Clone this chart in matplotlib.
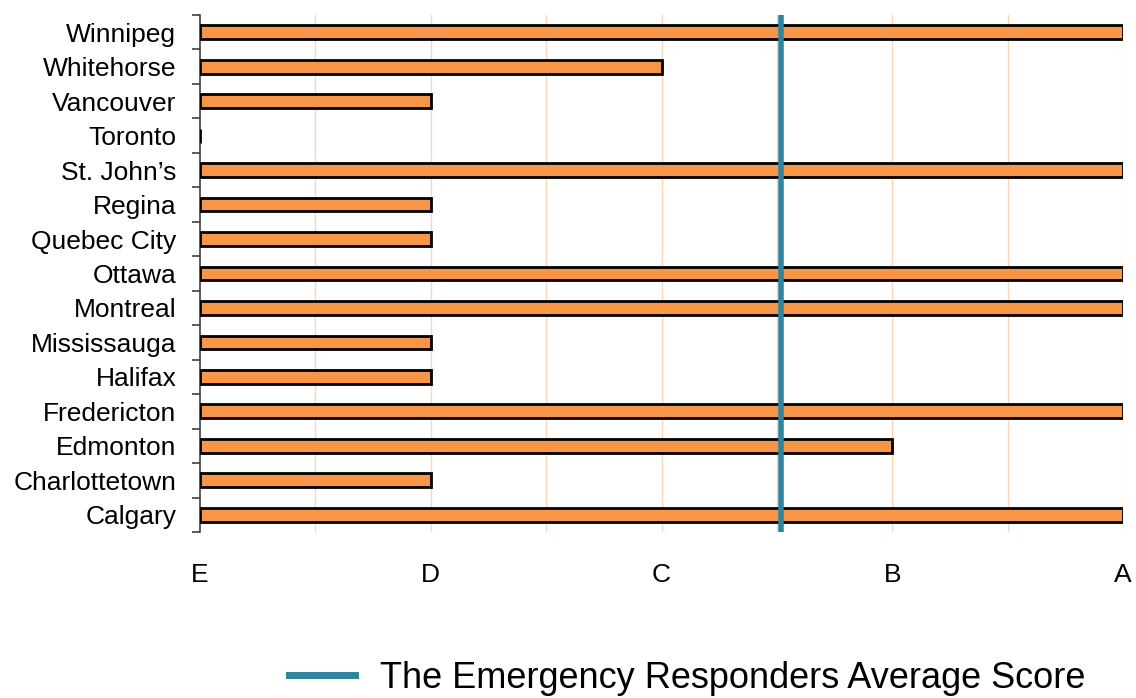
import matplotlib
matplotlib.use('Agg')
import matplotlib.pyplot as plt
import numpy as np

plt.rcParams['font.family'] = ['Liberation Sans', 'DejaVu Sans']

cities = ['Calgary', 'Charlottetown', 'Edmonton', 'Fredericton', 'Halifax',
          'Mississauga', 'Montreal', 'Ottawa', 'Quebec City', 'Regina',
          'St. John\u2019s', 'Toronto', 'Vancouver', 'Whitehorse', 'Winnipeg']
scores = [4, 1, 3, 4, 1, 1, 4, 4, 1, 1, 4, 0, 1, 2, 4]
grade_labels = ['E', 'D', 'C', 'B', 'A']
average_score = 2.52

fig = plt.figure(figsize=(11.36, 6.98), dpi=100)
ax = fig.add_axes([200 / 1136, 1 - 532 / 698, 923 / 1136, 517 / 698])

y = np.arange(len(cities))
ax.barh(y, scores, height=0.4, color='#F79646', edgecolor='black', linewidth=2, zorder=3)
line = ax.axvline(average_score, color='#31849B', linewidth=4, zorder=4,
                  label='The Emergency Responders Average Score')

ax.set_xlim(0, 4)
ax.set_ylim(-0.5, len(cities) - 0.5)

# grid every half grade
for gx in np.arange(0.5, 4.01, 0.5):
    ax.axvline(gx, color='#FCD5B4', linewidth=1, zorder=1)

ax.set_xticks(range(5))
ax.set_xticklabels(grade_labels, fontsize=19)
ax.tick_params(axis='x', length=0, pad=22)

ax.set_yticks(y)
ax.set_yticklabels(cities, fontsize=19)
ax.set_yticks(np.arange(-0.5, len(cities)), minor=True)
ax.tick_params(axis='y', which='major', length=0, pad=17)
ax.tick_params(axis='y', which='minor', length=6, width=1.2, color='#404040')

for s in ['top', 'right', 'bottom']:
    ax.spines[s].set_visible(False)
ax.spines['left'].set_color('#404040')
ax.spines['left'].set_linewidth(1.2)

fig.legend(handles=[line], loc='center', bbox_to_anchor=(687 / 1136, 1 - 678 / 698),
           frameon=False, fontsize=26, handlelength=1.85, handletextpad=0.68,
           borderpad=0.2)
leg_line = fig.legends[0].get_lines()[0]
leg_line.set_linewidth(5)

plt.savefig('out.png', dpi=100)
plt.close()
